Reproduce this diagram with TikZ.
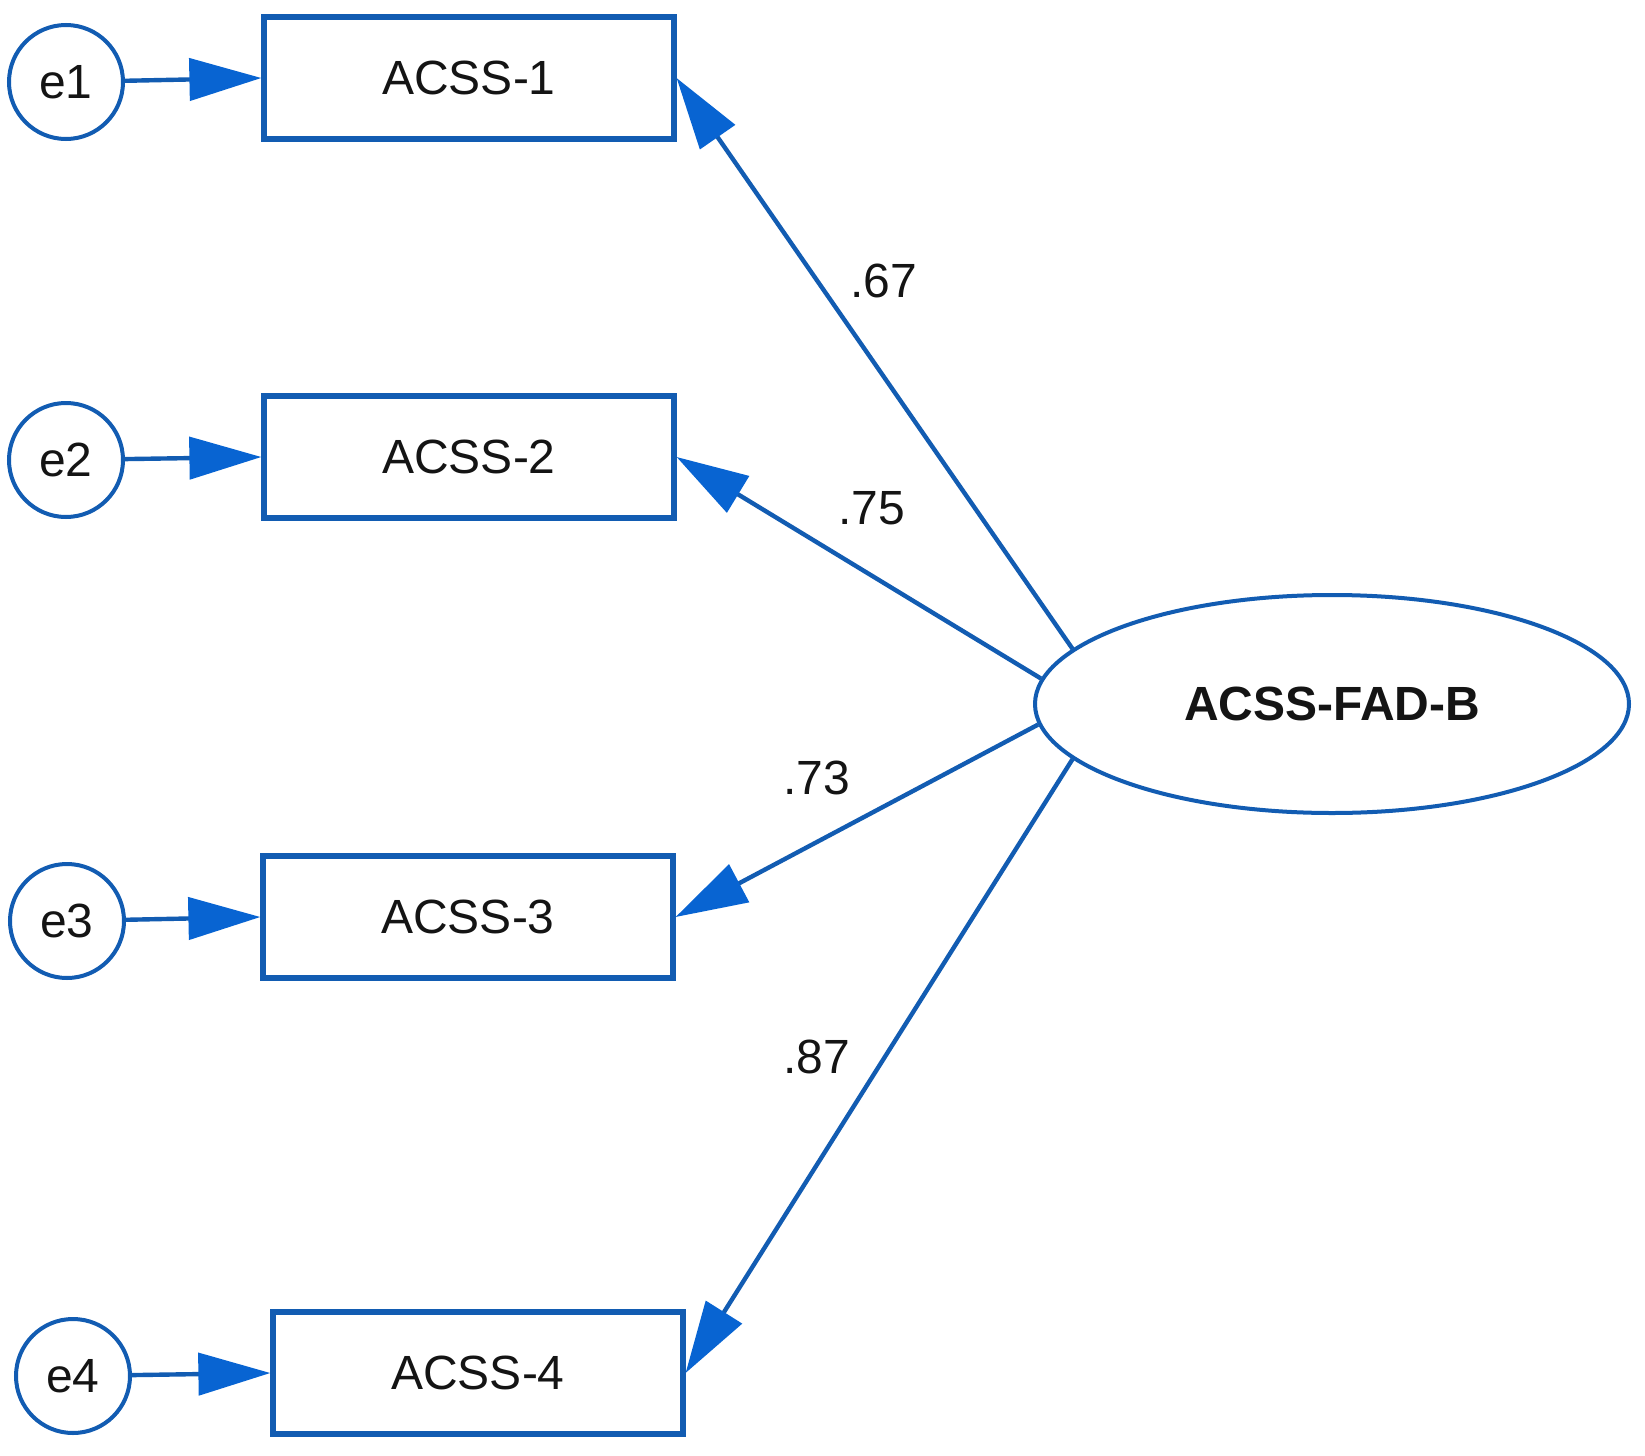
\documentclass[tikz,border=0pt]{standalone}
\usepackage{fontspec}
\setmainfont{Liberation Sans}
\usetikzlibrary{arrows.meta,shapes.geometric}
\definecolor{lineblue}{RGB}{18,92,178}
\definecolor{tipblue}{RGB}{8,100,210}
\definecolor{txt}{RGB}{20,20,20}
\tikzset{
  errc/.style={circle, draw=lineblue, line width=2pt, minimum size=57pt, inner sep=0pt, font=\fontsize{24pt}{28pt}\selectfont, text=txt},
  obsbox/.style={rectangle, draw=lineblue, line width=2.6pt, minimum width=205pt, minimum height=61pt, inner sep=0pt, font=\fontsize{24pt}{28pt}\selectfont, text=txt},
  latent/.style={ellipse, draw=lineblue, line width=2pt, minimum width=297pt, minimum height=109pt, inner sep=0pt, font=\bfseries\fontsize{24pt}{28pt}\selectfont, text=txt},
  conn/.style={draw=lineblue, line width=2.2pt, -{Triangle[length=36pt,width=21pt,fill=tipblue,color=tipblue]}},
  coef/.style={font=\fontsize{24pt}{28pt}\selectfont, text=txt, inner sep=0pt}
}
\begin{document}
\begin{tikzpicture}[x=0.5pt,y=-0.5pt]
\useasboundingbox (0,0) rectangle (1645,1456);
\fill[white] (0,0) rectangle (1645,1456);
% error terms
\node[errc] (e1) at (66,82) {e1};
\node[errc] (e2) at (66,460) {e2};
\node[errc] (e3) at (67,921) {e3};
\node[errc] (e4) at (73,1376) {e4};
% observed variables
\node[obsbox] (b1) at (469,78) {ACSS-1};
\node[obsbox] (b2) at (469,457) {ACSS-2};
\node[obsbox] (b3) at (468,917) {ACSS-3};
\node[obsbox] (b4) at (478,1373) {ACSS-4};
% latent factor
\node[latent] (F) at (1332,704) {ACSS-FAD-B};
% error arrows
\draw[conn] (e1) -- (b1.west);
\draw[conn] (e2) -- (b2.west);
\draw[conn] (e3) -- (b3.west);
\draw[conn] (e4) -- (b4.west);
% loadings
\draw[conn] (F.168) -- (b1.east);
\draw[conn] (F.175) -- (b2.east);
\draw[conn] (F.184.6) -- (b3.east);
\draw[conn] (F.192) -- (b4.east);
% coefficients
\node[coef] (l1) at (884,281) {.67};
\node[coef] (l2) at (872,508) {.75};
\node[coef] (l3) at (817,778) {.73};
\node[coef] (l4) at (817,1057) {.87};
\end{tikzpicture}
\end{document}
